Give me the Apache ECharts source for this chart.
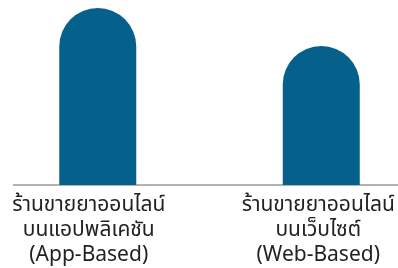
<!DOCTYPE html>
<html>
<head>
<meta charset="utf-8">
<script src="https://cdn.jsdelivr.net/npm/echarts@6/dist/echarts.min.js"></script>
<style>
  html, body { margin: 0; padding: 0; background: #fff; }
  #chart { width: 398px; height: 268px; }
</style>
</head>
<body>
<div id="chart"></div>
<script>
// 类别与数值
const categories = [
  'ร้านขายยาออนไลน์\nบนแอปพลิเคชัน\n(App-Based)',
  'ร้านขายยาออนไลน์\nบนเว็บไซต์\n(Web-Based)'
];
const values = [100, 78.5];

// 标签略向左偏移（与原图对齐）
const labelShift = [18, 6];

const chart = echarts.init(document.getElementById('chart'));

const option = {
  animation: false,
  grid: {
    left: -14,
    right: -35,
    top: 8,
    bottom: 83,
    outerBoundsMode: 'none',
    containLabel: false
  },
  xAxis: {
    type: 'category',
    data: categories.map((c, i) => ({
      value: c,
      textStyle: { padding: [0, labelShift[i], 0, 0] }
    })),
    axisLine: { show: false },
    axisTick: { show: false },
    axisLabel: {
      interval: 0,
      margin: 8,
      color: '#222',
      fontSize: 21,
      lineHeight: 25,
      fontFamily: '"Noto Sans", "Noto Sans Thai", "DejaVu Sans", sans-serif'
    }
  },
  yAxis: {
    type: 'value',
    min: 0,
    max: values[0],
    show: false
  },
  series: [
    {
      type: 'bar',
      data: values,
      barWidth: 77,
      itemStyle: {
        color: '#05618c',
        borderRadius: [38.5, 38.5, 0, 0]
      }
    }
  ],
  // 底部轴线
  graphic: [
    {
      type: 'line',
      shape: { x1: 13, y1: 185, x2: 398, y2: 185 },
      style: { stroke: '#b3b3b3', lineWidth: 2 }
    }
  ]
};

chart.setOption(option);
</script>
</body>
</html>
